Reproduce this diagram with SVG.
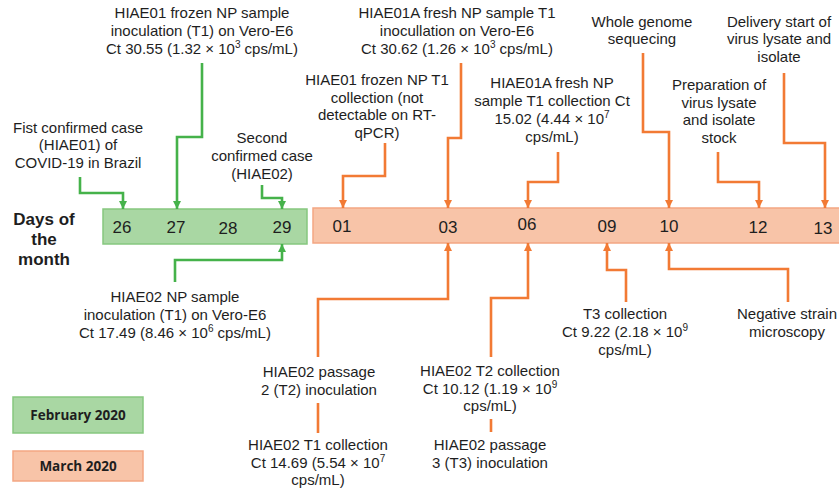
<svg xmlns="http://www.w3.org/2000/svg" width="839" height="492" viewBox="0 0 839 492">
  <style>
    .lbl { font-family: "Liberation Sans", Arial, sans-serif; font-size: 15px; fill: #1e1e1e; text-anchor: middle; }
    .day { font-family: "Liberation Sans", Arial, sans-serif; font-size: 17px; fill: #1e1e1e; text-anchor: middle; }
    .hdr { font-family: "Liberation Sans", Arial, sans-serif; font-size: 17px; font-weight: bold; fill: #1e1e1e; text-anchor: middle; }
    .leg { font-family: "Open Sans", "Liberation Sans", sans-serif; font-size: 13.5px; font-weight: bold; fill: #1e1e1e; text-anchor: middle; }
    .sup { font-size: 10px; }
    .feb { fill: #a9d7a3; stroke: #86c77f; stroke-width: 1.5; }
    .mar { fill: #f8c4a8; stroke: #f3a683; stroke-width: 1.5; }
    .gl { fill: none; stroke: #45b24a; stroke-width: 2.6; }
    .ol { fill: none; stroke: #f27a34; stroke-width: 2.6; }
    .ga { marker-end: url(#arrowG); }
    .oa { marker-end: url(#arrowO); }
  </style>
  <defs>
    <marker id="arrowG" markerUnits="userSpaceOnUse" markerWidth="9" markerHeight="9" refX="8" refY="4.5" orient="auto">
      <path d="M0,0.5 L8,4.5 L0,8.5 z" fill="#45b24a"/>
    </marker>
    <marker id="arrowO" markerUnits="userSpaceOnUse" markerWidth="9" markerHeight="9" refX="8" refY="4.5" orient="auto">
      <path d="M0,0.5 L8,4.5 L0,8.5 z" fill="#f27a34"/>
    </marker>
  </defs>

  <rect width="839" height="492" fill="#ffffff"/>

  <!-- timeline bars -->
  <g id="days-header">
    <text class="hdr" x="44" y="225">Days of</text>
    <text class="hdr" x="44" y="245">the</text>
    <text class="hdr" x="44" y="265">month</text>
  </g>
  <g id="february-bar">
    <rect class="feb" x="103" y="209" width="204" height="35"/>
    <text class="day" x="122" y="233">26</text>
    <text class="day" x="176" y="233">27</text>
    <text class="day" x="228" y="234">28</text>
    <text class="day" x="282" y="233">29</text>
  </g>
  <g id="march-bar">
    <rect class="mar" x="313" y="208" width="540" height="35"/>
    <text class="day" x="342" y="232">01</text>
    <text class="day" x="448" y="233">03</text>
    <text class="day" x="527" y="230">06</text>
    <text class="day" x="607" y="232">09</text>
    <text class="day" x="669" y="232">10</text>
    <text class="day" x="758" y="233">12</text>
    <text class="day" x="823" y="234">13</text>
  </g>

  <!-- connectors -->
  <g id="connectors">
    <polyline class="gl ga" points="80,177 80,193 123,193 123,209"/>
    <polyline class="gl ga" points="202,63 202,137 177,137 177,209"/>
    <polyline class="gl ga" points="262,185 262,198 282,198 282,209"/>
    <polyline class="gl ga" points="175,282 175,260 282,260 282,244"/>

    <polyline class="ol oa" points="385,143 385,176 343,176 343,208"/>
    <polyline class="ol oa" points="461,63 461,138 448,138 448,208"/>
    <polyline class="ol oa" points="558,152 558,182 528,182 528,208"/>
    <polyline class="ol oa" points="643,53 643,132 669,132 669,208"/>
    <polyline class="ol oa" points="718,152 718,182 759,182 759,208"/>
    <polyline class="ol oa" points="784,73 784,143 825,143 825,208"/>

    <polyline class="ol oa" points="318,357 318,299 448,299 448,243"/>
    <polyline class="ol oa" points="491,357 491,298 528,298 528,243"/>
    <polyline class="ol oa" points="626,302 626,270 607,270 607,243"/>
    <polyline class="ol oa" points="788,302 788,269 669,269 669,243"/>

    <line class="ol" x1="318" y1="403" x2="318" y2="433"/>
    <line class="ol" x1="491" y1="419" x2="491" y2="432"/>
  </g>

  <!-- February events -->
  <g id="first-case">
    <text class="lbl" x="78" y="133">Fist confirmed case</text>
    <text class="lbl" x="78" y="150">(HIAE01) of</text>
    <text class="lbl" x="78" y="168">COVID-19 in Brazil</text>
  </g>
  <g id="hiae01-frozen-inoculation">
    <text class="lbl" x="202" y="18">HIAE01 frozen NP sample</text>
    <text class="lbl" x="202" y="36">inoculation (T1) on Vero-E6</text>
    <text class="lbl" x="202" y="54">Ct 30.55 (1.32 × 10<tspan class="sup" dy="-6">3</tspan><tspan dy="6"> cps/mL)</tspan></text>
  </g>
  <g id="second-case">
    <text class="lbl" x="262" y="143">Second</text>
    <text class="lbl" x="262" y="161">confirmed case</text>
    <text class="lbl" x="262" y="179">(HIAE02)</text>
  </g>
  <g id="hiae02-inoculation">
    <text class="lbl" x="175" y="302">HIAE02 NP sample</text>
    <text class="lbl" x="175" y="320">inoculation (T1) on Vero-E6</text>
    <text class="lbl" x="175" y="338">Ct 17.49 (8.46 × 10<tspan class="sup" dy="-6">6</tspan><tspan dy="6"> cps/mL)</tspan></text>
  </g>

  <!-- March events -->
  <g id="hiae01-frozen-collection">
    <text class="lbl" x="377" y="85">HIAE01 frozen NP T1</text>
    <text class="lbl" x="377" y="103">collection (not</text>
    <text class="lbl" x="377" y="120">detectable on RT-</text>
    <text class="lbl" x="377" y="138">qPCR)</text>
  </g>
  <g id="hiae01a-fresh-inoculation">
    <text class="lbl" x="457" y="18">HIAE01A fresh NP sample T1</text>
    <text class="lbl" x="457" y="36">inocullation on Vero-E6</text>
    <text class="lbl" x="457" y="54">Ct 30.62 (1.26 × 10<tspan class="sup" dy="-6">3</tspan><tspan dy="6"> cps/mL)</tspan></text>
  </g>
  <g id="hiae01a-fresh-collection">
    <text class="lbl" x="552" y="88">HIAE01A fresh NP</text>
    <text class="lbl" x="552" y="106">sample T1 collection Ct</text>
    <text class="lbl" x="552" y="124">15.02 (4.44 × 10<tspan class="sup" dy="-6">7</tspan></text>
    <text class="lbl" x="552" y="142">cps/mL)</text>
  </g>
  <g id="whole-genome">
    <text class="lbl" x="642" y="27">Whole genome</text>
    <text class="lbl" x="642" y="44">sequecing</text>
  </g>
  <g id="preparation">
    <text class="lbl" x="719" y="90">Preparation of</text>
    <text class="lbl" x="719" y="108">virus lysate</text>
    <text class="lbl" x="719" y="125">and isolate</text>
    <text class="lbl" x="719" y="143">stock</text>
  </g>
  <g id="delivery">
    <text class="lbl" x="779" y="27">Delivery start of</text>
    <text class="lbl" x="779" y="44">virus lysate and</text>
    <text class="lbl" x="779" y="62">isolate</text>
  </g>
  <g id="passage-2">
    <text class="lbl" x="319" y="377">HIAE02 passage</text>
    <text class="lbl" x="319" y="395">2 (T2) inoculation</text>
  </g>
  <g id="hiae02-t1-collection">
    <text class="lbl" x="318" y="450">HIAE02 T1 collection</text>
    <text class="lbl" x="318" y="468">Ct 14.69 (5.54 × 10<tspan class="sup" dy="-6">7</tspan></text>
    <text class="lbl" x="318" y="485">cps/mL)</text>
  </g>
  <g id="hiae02-t2-collection">
    <text class="lbl" x="490" y="376">HIAE02 T2 collection</text>
    <text class="lbl" x="490" y="394">Ct 10.12 (1.19 × 10<tspan class="sup" dy="-6">9</tspan></text>
    <text class="lbl" x="490" y="411">cps/mL)</text>
  </g>
  <g id="passage-3">
    <text class="lbl" x="490" y="450">HIAE02 passage</text>
    <text class="lbl" x="490" y="468">3 (T3) inoculation</text>
  </g>
  <g id="t3-collection">
    <text class="lbl" x="625" y="319">T3 collection</text>
    <text class="lbl" x="625" y="337">Ct 9.22 (2.18 × 10<tspan class="sup" dy="-6">9</tspan></text>
    <text class="lbl" x="625" y="355">cps/mL)</text>
  </g>
  <g id="negative-strain">
    <text class="lbl" x="787" y="319">Negative strain</text>
    <text class="lbl" x="787" y="337">microscopy</text>
  </g>

  <!-- legend -->
  <g id="legend-february">
    <rect class="feb" x="13" y="397" width="130" height="36"/>
    <text class="leg" x="78" y="420">February 2020</text>
  </g>
  <g id="legend-march">
    <rect class="mar" x="13" y="451" width="130" height="30"/>
    <text class="leg" x="78" y="471">March 2020</text>
  </g>
</svg>
